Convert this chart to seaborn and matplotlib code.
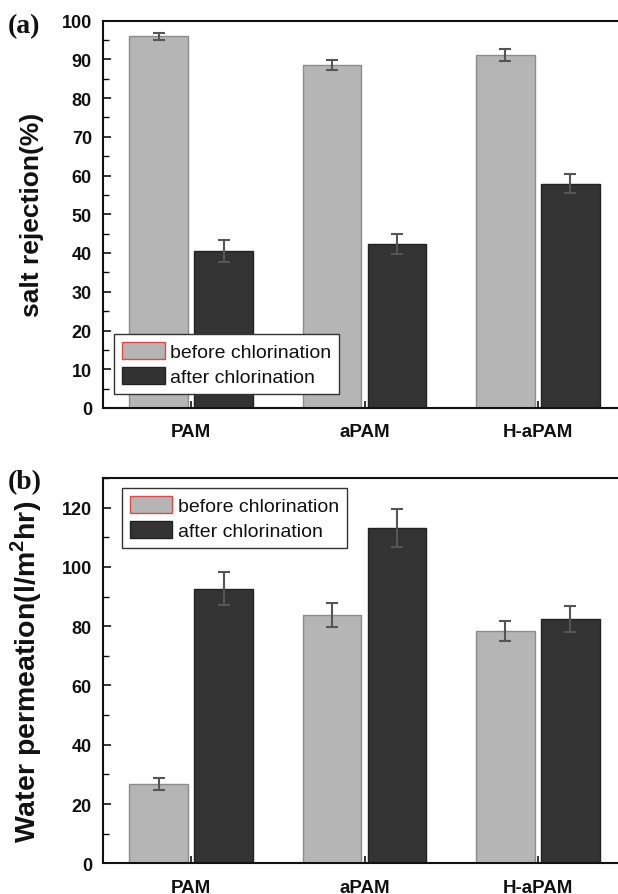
import numpy as np
import pandas as pd
import seaborn as sns
import matplotlib
matplotlib.use("Agg")
import matplotlib.pyplot as plt
from matplotlib.patches import Patch
from matplotlib.ticker import MultipleLocator

# ---- data ----
membranes = ["PAM", "aPAM", "H-aPAM"]
conditions = ["before chlorination", "after chlorination"]

rej_before = [95.9, 88.5, 91.1]
rej_before_err = [1.0, 1.3, 1.6]
rej_after = [40.6, 42.3, 57.9]
rej_after_err = [2.8, 2.6, 2.5]

perm_before = [26.8, 83.7, 78.3]
perm_before_err = [2.0, 4.1, 3.3]
perm_after = [92.7, 113.2, 82.4]
perm_after_err = [5.6, 6.4, 4.4]

sns.set_style("ticks")
plt.rcParams["font.family"] = ["Liberation Sans", "DejaVu Sans"]
plt.rcParams["mathtext.fontset"] = "custom"
plt.rcParams["mathtext.bf"] = "Liberation Sans:bold"
plt.rcParams["mathtext.rm"] = "Liberation Sans:bold"
for k in ["text.color", "axes.labelcolor", "xtick.color", "ytick.color"]:
    plt.rcParams[k] = "#111111"

C_BEFORE = "#b5b5b5"
E_BEFORE = "#8c8c8c"
C_AFTER = "#333333"
E_AFTER = "#222222"
ERR_C = "#555555"

W, H = 618, 895
fig = plt.figure(figsize=(W / 100, H / 100), dpi=100)
ax_left = 103 / W
ax_w = 523 / W
ax1 = fig.add_axes([ax_left, 1 - 409 / H, ax_w, (409 - 21.5) / H])
ax2 = fig.add_axes([ax_left, 1 - 864.3 / H, ax_w, (864.3 - 479) / H])


def panel(ax, before, before_err, after, after_err, ymax, major, minor, ylabel, ylsize):
    df = pd.DataFrame({
        "membrane": membranes * 2,
        "condition": [conditions[0]] * 3 + [conditions[1]] * 3,
        "value": list(before) + list(after),
    })
    sns.barplot(data=df, x="membrane", y="value", hue="condition",
                hue_order=conditions, order=membranes,
                palette=[C_BEFORE, C_AFTER], errorbar=None,
                width=0.75, gap=0.1, legend=False, ax=ax,
                saturation=1)
    for cont, ec in zip(ax.containers, [E_BEFORE, E_AFTER]):
        for p in cont:
            p.set_edgecolor(ec)
            p.set_linewidth(1.0)
    for cont, vals, errs in zip(ax.containers, [before, after], [before_err, after_err]):
        xs = [p.get_x() + p.get_width() / 2 for p in cont]
        ax.errorbar(xs, vals, yerr=errs, fmt="none", ecolor=ERR_C,
                    elinewidth=1.5, capsize=4.5, capthick=1.5, zorder=5)
    ax.set_xlim(-0.508, 2.508)
    ax.set_ylim(0, ymax)
    ax.yaxis.set_major_locator(MultipleLocator(major))
    ax.yaxis.set_minor_locator(MultipleLocator(minor))
    ax.tick_params(axis="y", which="major", direction="in", length=6, width=1.2,
                   labelsize=13, pad=8, left=True, right=False)
    ax.tick_params(axis="y", which="minor", direction="in", length=4, width=1.0)
    ax.tick_params(axis="x", which="major", direction="in", length=5, width=1.2,
                   labelsize=13.5, pad=11)
    for lab in ax.get_xticklabels() + ax.get_yticklabels():
        lab.set_fontweight("bold")
    ax.set_xlabel("")
    ax.set_ylabel(ylabel, fontsize=ylsize, fontweight="bold")
    ax.yaxis.set_label_coords(-0.112, 0.5)
    for s in ["left", "bottom", "top", "right"]:
        ax.spines[s].set_visible(True)
        ax.spines[s].set_linewidth(1.5)
        ax.spines[s].set_color("#111111")


panel(ax1, rej_before, rej_before_err, rej_after, rej_after_err,
      100, 10, 5, "salt rejection(%)", 19)
panel(ax2, perm_before, perm_before_err, perm_after, perm_after_err,
      130, 20, 10, r"Water permeation(l/m$^{\mathbf{2}}$hr)", 20.5)

handles = [Patch(facecolor=C_BEFORE, edgecolor="#e04848", linewidth=1.0),
           Patch(facecolor=C_AFTER, edgecolor=E_AFTER, linewidth=1.0)]

for ax, loc, anchor in [(ax1, "lower left", (0.021, 0.036)),
                        (ax2, "upper left", (0.036, 0.974))]:
    leg = ax.legend(handles, conditions, loc=loc, bbox_to_anchor=anchor,
                    borderaxespad=0, fontsize=14, frameon=True, fancybox=False,
                    handlelength=2.2, handleheight=1.0, handletextpad=0.3,
                    labelspacing=0.3, borderpad=0.4)
    fr = leg.get_frame()
    fr.set_edgecolor("#333333")
    fr.set_linewidth(1.0)
    fr.set_facecolor("white")
    fr.set_alpha(1)

fig.text(8 / W, 1 - 27 / H, "(a)", fontsize=20, fontweight="bold",
         family=["Liberation Serif", "DejaVu Serif"], ha="left", va="center")
fig.text(8 / W, 1 - 483 / H, "(b)", fontsize=20, fontweight="bold",
         family=["Liberation Serif", "DejaVu Serif"], ha="left", va="center")

fig.savefig("out.png", dpi=100)
